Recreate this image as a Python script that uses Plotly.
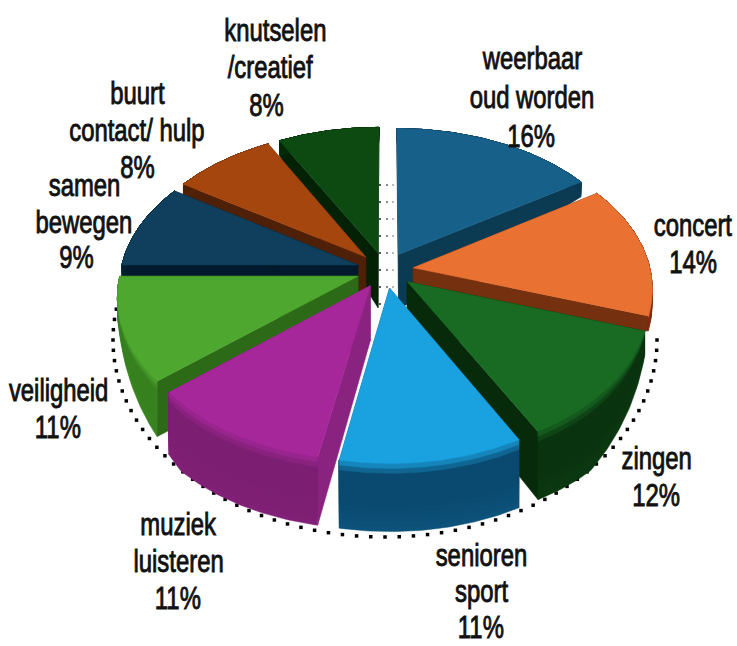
import numpy as np
import plotly.graph_objects as go

categories = ["weerbaar oud worden", "concert", "zingen", "senioren sport", "muziek luisteren",
              "veiligheid", "samen bewegen", "buurt contact/ hulp", "knutselen /creatief"]
values = [16, 14, 12, 11, 11, 11, 9, 8, 8]
percent_labels = ["16%", "14%", "12%", "11%", "11%", "11%", "9%", "8%", "8%"]

top_colors = ["#17608A", "#E97132", "#196B24", "#1AA2E0", "#A6279A", "#4EA72E", "#0F3F5C", "#A6460F", "#0D4A12"]
outer_colors = ["#0B3A53", "#7A2E12", "#0A330F", "#0B4A70", "#7C1F72", "#37801F", "#04202F", "#4F2008", "#042A08"]
cut_colors = ["#0B3A53", "#74300F", "#072A0B", "#0B4A70", "#8A2280", "#2C6A18", "#021A2B", "#4F2008", "#032205"]
paint_order = [8, 7, 0, 6, 1, 5, 2, 4, 3]

# label lines: text, centre x, centre y (pixels of the page)
label_lines = [
    ("weerbaar", 532, 58), ("oud worden", 532, 97), ("16%", 531, 136),
    ("concert", 693, 225), ("14%", 693, 262),
    ("zingen", 656, 458), ("12%", 656, 495),
    ("senioren", 481, 555), ("sport", 481, 591), ("11%", 481, 627),
    ("muziek", 178, 524), ("luisteren", 178, 561), ("11%", 178, 598),
    ("veiligheid", 58, 390), ("11%", 58, 427),
    ("samen", 84, 185), ("bewegen", 84, 222), ("9%", 76, 257),
    ("buurt", 137, 93), ("contact/ hulp", 137, 130), ("8%", 137, 167),
    ("knutselen", 275, 30), ("/creatief", 270, 67), ("8%", 266, 105),
]

CX, CY = 385.0, 270.0
A, B, C, D = 150.4, 20.3, 237.0, 31.0
EXPLODE = 0.12
APEX_T = 55.0


def project(u, v):
    return CX + u * (C + D * v), CY + A * v + B * v * v


def thick(v):
    return np.interp(v, [-1.3, 0.3, 0.55, 0.8, 1.3], [15, 15, 42, 68, 68])


def mix(c1, c2, f):
    a = [int(c1[i:i + 2], 16) for i in (1, 3, 5)]
    b = [int(c2[i:i + 2], 16) for i in (1, 3, 5)]
    return "#%02x%02x%02x" % tuple(int(round(x + (y - x) * f)) for x, y in zip(a, b))


def poly(fig, xs, ys, color):
    fig.add_trace(go.Scatter(x=list(xs), y=list(ys), mode="lines", fill="toself", fillcolor=color,
                             line=dict(color=color, width=0.5), hoverinfo="skip", showlegend=False))


fig = go.Figure()

# dotted shadow under the pie
phi = np.radians(np.arange(0, 190, 3.0))
fig.add_trace(go.Scatter(x=385 + 272 * np.cos(phi), y=340 + 197 * np.sin(phi), mode="markers",
                         marker=dict(symbol="square", size=3.5, color="#000000"),
                         hoverinfo="skip", showlegend=False))
# faint dots of the shadow seen through the central gap
gap_y = np.arange(185, 312, 17)
for gx, shade in ((380, "#555555"), (387, "#888888"), (393, "#bbbbbb")):
    fig.add_trace(go.Scatter(x=np.full(gap_y.shape, gx), y=gap_y, mode="markers",
                             marker=dict(symbol="square", size=2, color=shade),
                             hoverinfo="skip", showlegend=False))

edges = np.concatenate([[0], np.cumsum(values)]) / np.sum(values) * 2 * np.pi

for i in paint_order:
    a0, a1 = edges[i], edges[i + 1]
    mid = (a0 + a1) / 2
    th = np.linspace(a0, a1, 50)
    ou, ov = EXPLODE * np.sin(mid), -EXPLODE * np.cos(mid)
    ru, rv = ou + np.sin(th), ov - np.cos(th)
    rx, ry = project(ru, rv)
    ax, ay = project(ou, ov)
    t = thick(rv)
    # cut faces
    for k in (0, -1):
        poly(fig, [ax, rx[k], rx[k], ax, ax], [ay, ry[k], ry[k] + t[k], ay + APEX_T, ay], cut_colors[i])
    # outer wall: overlapping bands painted from the bottom up, for a soft bevel without seams
    n = 14
    for j in range(n - 1, -1, -1):
        f = (j + 0.5) / n
        shade = min(1.0, 0.15 + f * 5) if f < 0.6 else 1.0 - (f - 0.6) * 0.25
        poly(fig, np.r_[rx, rx[::-1]], np.r_[ry, (ry + t * (j + 1) / n)[::-1]],
             mix(top_colors[i], outer_colors[i], shade))
    # top face
    poly(fig, np.r_[ax, rx, ax], np.r_[ay, ry, ay], top_colors[i])

annotations = [dict(x=x, y=y, text=s, xref="x", yref="y", showarrow=False, xanchor="center", yanchor="middle",
                    font=dict(family="Liberation Sans", size=31, color="#111111"))
               for s, x, y in label_lines]

fig.update_layout(
    width=737, height=646, margin=dict(l=0, r=0, t=0, b=0), paper_bgcolor="white", plot_bgcolor="white",
    xaxis=dict(range=[0, 737], visible=False, fixedrange=True),
    yaxis=dict(range=[646, 0], visible=False, fixedrange=True),
    annotations=annotations, showlegend=False,
)
# the reference lettering is tall and condensed: narrow each text around its own centre
post = """
document.body.style.margin='0';
function narrow(){
  document.querySelectorAll('.annotation-text').forEach(function(t){
    var b=t.getBBox(), cx=b.x+b.width/2, cy=b.y+b.height/2;
    t.setAttribute('transform','translate('+cx+' '+cy+') scale(0.77 1) translate('+(-cx)+' '+(-cy)+')');
    t.style.stroke='#111111'; t.style.strokeWidth='0.9px';
  });
}
narrow(); setTimeout(narrow,50);
"""
fig.write_html("out.html", config=dict(displayModeBar=False), post_script=post)
